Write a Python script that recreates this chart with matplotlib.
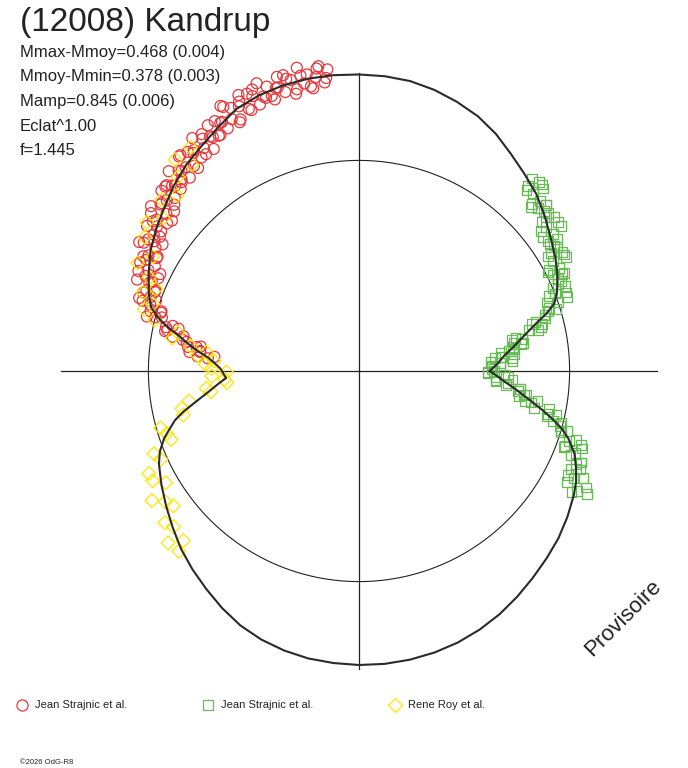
import numpy as np
import matplotlib
matplotlib.use("Agg")
import matplotlib.pyplot as plt
from matplotlib.lines import Line2D

plt.rcParams['font.family'] = ['Liberation Sans', 'DejaVu Sans']

# model curve: phase angle (deg) and relative flux (1 = mean circle)
curve_theta = [0, 3, 6, 9, 12, 15, 17, 19, 21, 24, 27, 30, 35, 40, 45, 50, 55, 60,
               65, 70, 75, 80, 85, 90, 95, 100, 105, 110, 115, 120, 125, 130, 135,
               140, 145, 150, 155, 160, 163, 165, 167, 169, 171, 173, 175, 177, 179,
               181, 183, 185, 187, 189, 191, 193, 195, 197, 199, 202, 205, 210, 215,
               220, 225, 230, 235, 240, 245, 250, 255, 260, 265, 270, 275, 280, 285,
               290, 295, 300, 305, 310, 315, 320, 325, 330, 333, 336, 339, 342, 344,
               346, 348, 350, 353, 356, 358, 360]
curve_r = [0.621, 0.658, 0.693, 0.745, 0.800, 0.870, 0.930, 0.980, 1.005, 1.032,
           1.055, 1.077, 1.110, 1.150, 1.190, 1.222, 1.258, 1.300, 1.335, 1.360,
           1.382, 1.398, 1.405, 1.408, 1.410, 1.409, 1.403, 1.392, 1.374, 1.337,
           1.304, 1.277, 1.244, 1.207, 1.176, 1.143, 1.102, 1.062, 1.032, 0.990,
           0.935, 0.870, 0.820, 0.770, 0.718, 0.685, 0.658, 0.645, 0.632, 0.667,
           0.704, 0.747, 0.797, 0.855, 0.905, 0.940, 0.978, 1.020, 1.048, 1.083,
           1.118, 1.155, 1.195, 1.230, 1.264, 1.300, 1.333, 1.357, 1.374, 1.386,
           1.392, 1.396, 1.396, 1.392, 1.384, 1.372, 1.355, 1.334, 1.309, 1.283,
           1.259, 1.236, 1.208, 1.178, 1.157, 1.128, 1.096, 1.047, 1.005, 0.948,
           0.890, 0.832, 0.757, 0.690, 0.655, 0.621]

# Jean Strajnic et al. (circles)
red_theta = [96, 96.8, 97.6, 98.4, 99.2, 100, 100.8, 101.6, 102.4, 103.2, 104, 104.8,
             105.6, 106.4, 107.2, 108, 108.8, 109.6, 110.4, 111.2, 112, 112.8, 113.6,
             114.4, 115.2, 116, 116.8, 117.6, 118.4, 119.2, 120, 120.8, 121.6, 122.4,
             123.2, 124, 124.8, 125.6, 126.4, 127.2, 128, 128.8, 129.6, 130.4, 131.2,
             132, 132.8, 133.6, 134.4, 135.2, 136, 136.8, 137.6, 138.4, 139.2, 140,
             140.8, 141.6, 142.4, 143.2, 144, 144.8, 145.6, 146.4, 147.2, 148, 148.8,
             149.6, 150.4, 151.2, 152, 152.8, 153.6, 154.4, 155.2, 156, 156.8, 157.6,
             158.4, 159.2, 160, 160.8, 161.6, 162.4, 163.2, 164, 164.8, 165.6, 166.4,
             167.2, 168, 168.8, 169.6, 170.4, 171.2, 172, 172.8, 173.6, 174.4, 175.2,
             96.4, 98.0, 99.6, 101.2, 102.8, 104.4, 106.0, 107.6, 109.2, 110.8, 112.4,
             114.0, 115.6, 117.2, 118.8, 120.4, 122.0, 123.6, 125.2, 126.8, 128.4,
             130.0, 131.6, 133.2, 134.8, 136.4, 138.0, 139.6, 141.2, 142.8, 144.4,
             146.0, 147.6, 149.2, 150.8, 152.4, 154.0, 155.6, 157.2, 158.8, 160.4,
             162.0, 163.6, 165.2, 166.8, 168.4, 170.0, 171.6, 173.2, 174.8]
red_r = [1.44, 1.38, 1.46, 1.41, 1.36, 1.43, 1.39, 1.47, 1.37, 1.42, 1.43, 1.37, 1.45,
         1.40, 1.35, 1.42, 1.37, 1.45, 1.35, 1.40, 1.42, 1.35, 1.43, 1.38, 1.32, 1.39,
         1.34, 1.42, 1.31, 1.35, 1.37, 1.30, 1.37, 1.32, 1.26, 1.33, 1.29, 1.36, 1.26,
         1.30, 1.32, 1.25, 1.33, 1.27, 1.22, 1.28, 1.24, 1.31, 1.21, 1.25, 1.27, 1.20,
         1.27, 1.22, 1.16, 1.23, 1.18, 1.26, 1.15, 1.20, 1.21, 1.15, 1.22, 1.17, 1.11,
         1.18, 1.13, 1.21, 1.10, 1.14, 1.16, 1.09, 1.16, 1.11, 1.05, 1.11, 1.07, 1.14,
         1.04, 1.08, 1.09, 1.02, 1.10, 1.04, 0.98, 1.03, 0.97, 1.04, 0.91, 0.94, 0.93,
         0.85, 0.90, 0.83, 0.76, 0.82, 0.76, 0.81, 0.69, 0.72,
         1.40, 1.45, 1.37, 1.43, 1.35, 1.45, 1.40, 1.37, 1.38, 1.43, 1.34, 1.40, 1.31,
         1.41, 1.35, 1.30, 1.31, 1.35, 1.26, 1.31, 1.23, 1.33, 1.27, 1.23, 1.24, 1.27,
         1.18, 1.23, 1.14, 1.24, 1.18, 1.14, 1.15, 1.19, 1.10, 1.14, 1.05, 1.15, 1.08,
         1.04, 1.05, 1.08, 0.98, 1.00, 0.88, 0.94, 0.85, 0.78, 0.76, 0.77]

# Jean Strajnic et al. (squares)
green_theta = [48.0, 47.2, 46.4, 45.6, 44.8, 44.0, 43.2, 42.4, 41.6, 40.8, 40.0, 39.2,
               38.4, 37.6, 36.8, 36.0, 35.2, 34.4, 33.6, 32.8, 32.0, 31.2, 30.4, 29.6,
               28.8, 28.0, 27.2, 26.4, 25.6, 24.8, 24.0, 23.2, 22.4, 21.6, 20.8, 20.0,
               19.2, 18.4, 17.6, 16.8, 16.0, 15.2, 14.4, 13.6, 12.8, 12.0, 11.2, 10.4,
               9.6, 8.8, 8.0, 7.2, 6.4, 5.6, 4.8, 4.0, 3.2, 2.4, 1.6, 0.8, 0.0, -0.8,
               -1.6, -2.4, -3.2, -4.0, -4.8, -5.6, -6.4, -7.2, -8.0, -8.8, -9.6, -10.4,
               -11.2, -12.0, -12.8, -13.6, -14.4, -15.2, -16.0, -16.8, -17.6, -18.4,
               -19.2, -20.0, -20.8, -21.6, -22.4, -23.2, -24.0, -24.8, -25.6, -26.4,
               -27.2, -28.0, -28.8, -29.6,
               47.6, 45.6, 43.6, 41.6, 39.6, 37.6, 35.6, 33.6, 31.6, 29.6, 27.6, 25.6,
               23.6, 21.6, 19.6, 17.6, 15.6, 13.6, 11.6, 9.6, 7.6, 5.6, 3.6, 1.6, -0.4,
               -2.4, -4.4, -6.4, -8.4, -10.4, -12.4, -14.4, -16.4, -18.4, -20.4, -22.4,
               -24.4, -26.4, -28.4]
green_r = [1.23, 1.17, 1.24, 1.18, 1.23, 1.14, 1.18, 1.15, 1.19, 1.16, 1.17, 1.12,
           1.18, 1.12, 1.18, 1.08, 1.13, 1.09, 1.13, 1.10, 1.11, 1.05, 1.12, 1.06,
           1.12, 1.02, 1.07, 1.03, 1.08, 1.04, 1.05, 1.00, 1.06, 1.00, 1.05, 0.95,
           1.00, 0.95, 0.98, 0.92, 0.92, 0.85, 0.90, 0.83, 0.87, 0.76, 0.79, 0.75,
           0.78, 0.74, 0.74, 0.68, 0.74, 0.68, 0.73, 0.63, 0.67, 0.63, 0.67, 0.63,
           0.64, 0.61, 0.69, 0.65, 0.73, 0.65, 0.71, 0.70, 0.77, 0.76, 0.80, 0.77,
           0.86, 0.83, 0.92, 0.85, 0.92, 0.92, 0.99, 0.99, 1.03, 1.00, 1.08, 1.05,
           1.12, 1.04, 1.10, 1.08, 1.14, 1.12, 1.15, 1.11, 1.18, 1.14, 1.21, 1.12,
           1.18, 1.16,
           1.19, 1.24, 1.13, 1.19, 1.15, 1.09, 1.18, 1.09, 1.07, 1.12, 1.01, 1.07,
           1.03, 0.97, 1.05, 0.94, 0.87, 0.89, 0.74, 0.79, 0.72, 0.65, 0.73, 0.63,
           0.61, 0.71, 0.65, 0.77, 0.79, 0.80, 0.96, 0.95, 1.00, 1.11, 1.04, 1.14,
           1.13, 1.11, 1.23]

# Rene Roy et al. (diamonds)
yellow_theta = [127, 129, 131, 133, 136, 139, 142, 145, 148, 151, 154, 156, 158, 160,
                162, 164, 166, 168, 170, 171.5, 173, 174.5, 176, 177.5, 179, 180.5,
                182, 183.5, 185, 186.5, 188, 190, 192, 194, 196, 198, 200, 202, 204,
                206, 208, 210, 212, 214, 216, 218, 220, 222, 224, 225]
yellow_r = [1.33, 1.26, 1.33, 1.26, 1.20, 1.24, 1.18, 1.23, 1.20, 1.12, 1.17, 1.09,
            1.04, 1.09, 1.03, 1.06, 1.00, 0.88, 0.90, 0.81, 0.73, 0.77, 0.69, 0.73,
            0.70, 0.63, 0.70, 0.64, 0.63, 0.73, 0.71, 0.82, 0.86, 0.86, 0.98, 0.96,
            0.95, 1.05, 1.03, 1.11, 1.11, 1.06, 1.16, 1.11, 1.09, 1.17, 1.15, 1.22,
            1.16, 1.21]

labels = ['Jean Strajnic et al.', 'Jean Strajnic et al.', 'Rene Roy et al.']
RED = '#e8363a'
GREEN = '#66bb55'
YELLOW = '#ffe600'
INK = '#222222'
RMAX = 1.415

fig = plt.figure(figsize=(6.88, 7.68), dpi=100)
ax = fig.add_axes([61 / 688, 99 / 768, 596 / 688, 596 / 768], projection='polar')
ax.set_ylim(0, RMAX)
ax.grid(False)
ax.set_xticks([])
ax.set_yticks([])
ax.spines['polar'].set_visible(False)

# cross and mean circle
for a in [0, np.pi / 2, np.pi, 3 * np.pi / 2]:
    ax.plot([a, a], [0, RMAX], color=INK, lw=0.9, clip_on=False)
circ = np.linspace(0, 2 * np.pi, 400)
ax.plot(circ, np.ones_like(circ), color=INK, lw=0.8)

ax.scatter(np.deg2rad(red_theta), red_r, s=62, marker='o', facecolors='none',
           edgecolors=RED, linewidths=0.9, clip_on=False, zorder=3)
ax.scatter(np.deg2rad(green_theta), green_r, s=50, marker='s', facecolors='none',
           edgecolors=GREEN, linewidths=0.9, clip_on=False, zorder=3)
ax.scatter(np.deg2rad(yellow_theta), yellow_r, s=50, marker='D', facecolors='none',
           edgecolors=YELLOW, linewidths=0.9, clip_on=False, zorder=3)

ax.plot(np.deg2rad(curve_theta), curve_r, color='#2a2a2a', lw=1.5, zorder=4,
        clip_on=False)

# text block
fig.text(20 / 688, 1 - 23 / 768, '(12008) Kandrup', fontsize=24, color=INK,
         va='center', ha='left')
info = ['Mmax-Mmoy=0.468 (0.004)', 'Mmoy-Mmin=0.378 (0.003)',
        'Mamp=0.845 (0.006)', 'Eclat^1.00', 'f=1.445']
for i, line in enumerate(info):
    fig.text(20 / 688, 1 - (52 + 24.7 * i) / 768, line, fontsize=12,
             color=INK, va='center', ha='left')

fig.text(623 / 688, 1 - 618 / 768, 'Provisoire', fontsize=16, color=INK,
         rotation=45, ha='center', va='center')

# legend
leg_x = [22, 208, 395]
leg_m = ['o', 's', 'D']
leg_c = [RED, GREEN, YELLOW]
leg_s = [8, 6.5, 7]
for x, m, c, ms, lab in zip(leg_x, leg_m, leg_c, leg_s, labels):
    fig.add_artist(Line2D([x / 688], [1 - 705 / 768], marker=m, markersize=ms,
                          markerfacecolor='none', markeredgecolor=c,
                          markeredgewidth=0.9, transform=fig.transFigure))
    fig.text((x + 13) / 688, 1 - 705 / 768, lab, fontsize=8, color=INK,
             va='center', ha='left')

fig.text(20 / 688, 1 - 762 / 768, '©2026 OdG-R8', fontsize=5.5, color=INK,
         va='center', ha='left')

fig.savefig('out.png', dpi=100, facecolor='white')
